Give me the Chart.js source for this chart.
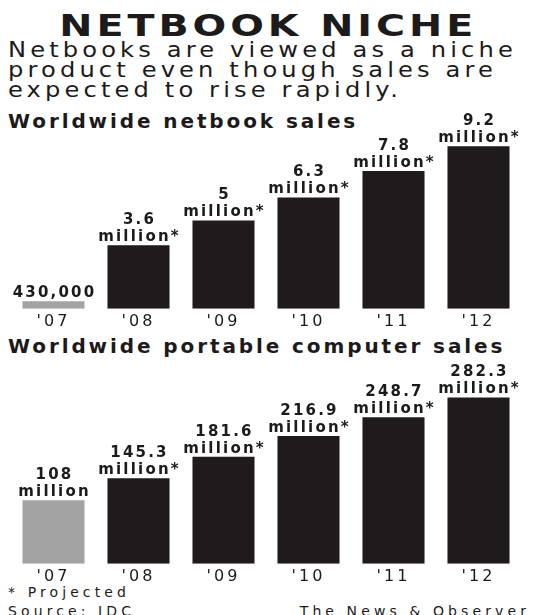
<!DOCTYPE html>
<html>
<head>
<meta charset="utf-8">
<script src="https://cdn.jsdelivr.net/npm/chart.js@4.4.1/dist/chart.umd.min.js"></script>
<style>
  html, body { margin: 0; padding: 0; background: #fff; }
  body { width: 536px; height: 615px; position: relative; overflow: hidden; color: #1c1a1b; font-family: "DejaVu Sans", sans-serif; }
  .t { position: absolute; white-space: nowrap; }
  #title { top: 8px; left: 0; width: 536px; text-align: center; font-size: 30px; font-weight: bold; letter-spacing: 3px; }
  #title span { display: inline-block; transform: scaleX(1.32); }
  .sub { left: 8px; font-size: 21px; letter-spacing: 3.6px; line-height: 20px; transform: scaleX(1.15); transform-origin: left center; }
  .head { left: 8px; font-size: 20px; font-weight: bold; letter-spacing: 2.9px; }
  .foot { font-size: 14px; letter-spacing: 4.1px; }
  canvas { position: absolute; left: 0; }
</style>
</head>
<body>
<div class="t" id="title"><span>NETBOOK NICHE</span></div>
<div class="t sub" style="top:40px">Netbooks are viewed as a niche</div>
<div class="t sub" style="top:60px">product even though sales are</div>
<div class="t sub" style="top:80px">expected to rise rapidly.</div>
<div class="t head" style="top:109px">Worldwide netbook sales</div>
<div class="t head" style="top:334px">Worldwide portable computer sales</div>
<div class="t foot" style="top:584px; left:8px">* Projected</div>
<div class="t foot" style="top:603px; left:8px">Source: IDC</div>
<div class="t foot" style="top:603px; right:6px">The News &amp; Observer</div>

<canvas id="netbookChart" width="536" height="234" style="top:100px"></canvas>
<canvas id="portableChart" width="536" height="234" style="top:355px"></canvas>

<script>
// --- DATA ---
const years = ["'07", "'08", "'09", "'10", "'11", "'12"];
const netbookSales = [0.43, 3.6, 5, 6.3, 7.8, 9.2];          // millions
const portableSales = [108, 145.3, 181.6, 216.9, 248.7, 282.3]; // millions
const netbookLabels = [["430,000"], ["3.6", "million*"], ["5", "million*"], ["6.3", "million*"], ["7.8", "million*"], ["9.2", "million*"]];
const portableLabels = [["108", "million"], ["145.3", "million*"], ["181.6", "million*"], ["216.9", "million*"], ["248.7", "million*"], ["282.3", "million*"]];

const colors = {
    actual: '#a3a3a3',
    projected: '#1f1a1c',
    text: '#1c1a1b'
};
const barColors = years.map((y, i) => i === 0 ? colors.actual : colors.projected);

// draws the two-line labels above each bar
const barLabels = {
    id: 'barLabels',
    beforeDraw(chart) {
        chart.ctx.letterSpacing = '3px';
    },
    afterDatasetsDraw(chart, args, opts) {
        const ctx = chart.ctx;
        const meta = chart.getDatasetMeta(0);
        ctx.save();
        ctx.letterSpacing = '2.2px';
        ctx.font = 'bold 15px "DejaVu Sans"';
        ctx.fillStyle = colors.text;
        ctx.textAlign = 'center';
        ctx.textBaseline = 'alphabetic';
        meta.data.forEach((bar, i) => {
            const lines = opts.labels[i];
            lines.slice().reverse().forEach((line, j) => {
                ctx.fillText(line, bar.x + 1, bar.y - 4 - j * 17);
            });
        });
        ctx.restore();
    }
};

function makeChart(id, values, labels, yMax) {
    return new Chart(document.getElementById(id), {
        type: 'bar',
        data: {
            labels: years,
            datasets: [{
                data: values,
                backgroundColor: barColors,
                borderWidth: 0,
                barPercentage: 0.73,
                categoryPercentage: 1
            }]
        },
        options: {
            responsive: false,
            animation: false,
            events: [],
            layout: { padding: { top: 32, left: 11, right: 15, bottom: 0 } },
            plugins: {
                legend: { display: false },
                tooltip: { enabled: false },
                barLabels: { labels: labels }
            },
            scales: {
                x: {
                    grid: { display: false, drawTicks: false, tickLength: 0 },
                    border: { display: false },
                    ticks: { color: colors.text, padding: 3, font: { family: 'DejaVu Sans', size: 16 } }
                },
                y: { display: false, min: 0, max: yMax }
            }
        },
        plugins: [barLabels]
    });
}

makeChart('netbookChart', netbookSales, netbookLabels, 10);
makeChart('portableChart', portableSales, portableLabels, 300);
</script>
</body>
</html>
